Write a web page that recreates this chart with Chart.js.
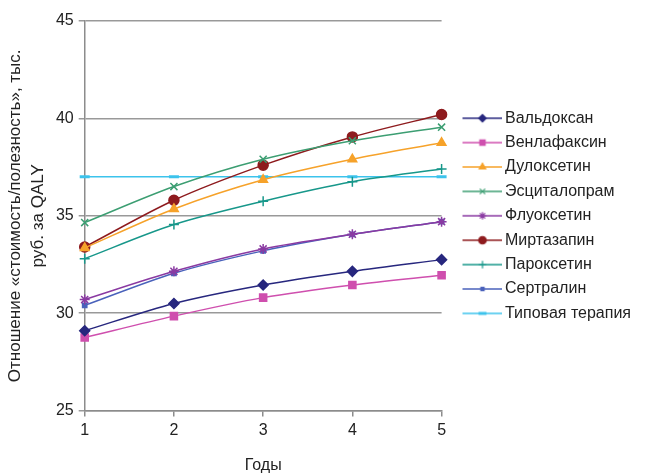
<!DOCTYPE html>
<html>
<head>
<meta charset="utf-8">
<script src="https://cdn.jsdelivr.net/npm/chart.js@4"></script>
<style>
  html, body { margin: 0; padding: 0; background: #fff; }
  #wrap { width: 645px; height: 476px; }
</style>
</head>
<body>
<div id="wrap"><canvas id="chart" width="645" height="476"></canvas></div>
<script>
// years on the x axis
var years = ['1', '2', '3', '4', '5']

// series, тыс. руб. за QALY
var valdoxan     = [29.1, 30.5, 31.45, 32.15, 32.75]
var venlafaxine  = [28.75, 29.85, 30.8, 31.45, 31.95]
var duloxetine   = [33.35, 35.35, 36.85, 37.9, 38.75]
var escitalopram = [34.65, 36.5, 37.9, 38.85, 39.55]
var fluoxetine   = [30.7, 32.15, 33.3, 34.05, 34.7]
var mirtazapine  = [33.4, 35.8, 37.6, 39.05, 40.2]
var paroxetine   = [32.8, 34.55, 35.75, 36.75, 37.4]
var sertraline   = [30.4, 32.05, 33.2, 34.05, 34.7]
var typical      = [37, 37, 37, 37, 37]

var yTicks = [25, 30, 35, 40, 45]

var FONT = "'Liberation Sans', Arial, sans-serif"
var BOX_W = 47   // legend slot before the text
var ICON_W = 58  // legend icon canvas, a bit wider than the slot

function LegendIcon(color, style, radius){
    var c = document.createElement('canvas')
    c.width = ICON_W
    c.height = 14
    var ctx = c.getContext('2d')
    ctx.strokeStyle = color
    ctx.fillStyle = color
    ctx.lineWidth = 1.5
    ctx.beginPath()
    ctx.moveTo(18, 7)
    ctx.lineTo(58, 7)
    ctx.stroke()
    ctx.lineWidth = style == 'line' ? 3 : 1.2
    var r = style == 'line' ? 4 : radius * 0.75
    Chart.helpers.drawPoint(ctx, {pointStyle: style, radius: r, borderWidth: 1.2, rotation: 0}, 38, 7)
    return c
}

function Series(label, data, color, style, radius){
    return {
        label: label,
        data: data,
        borderColor: color,
        backgroundColor: color,
        pointStyle: style,
        pointRadius: radius,
        pointBorderWidth: style == 'line' ? 3 : 1.5,
        borderWidth: 1.5,
        tension: 0.3,
        fill: false,
        icon: LegendIcon(color, style, radius)
    }
}

var datasets = [
    Series('Вальдоксан', valdoxan, '#27277e', 'rectRot', 5),
    Series('Венлафаксин', venlafaxine, '#cf4fae', 'rect', 5),
    Series('Дулоксетин', duloxetine, '#f6a22a', 'triangle', 5),
    Series('Эсциталопрам', escitalopram, '#3c9e72', 'crossRot', 5),
    Series('Флуоксетин', fluoxetine, '#8a3aa2', 'star', 5),
    Series('Миртазапин', mirtazapine, '#8e1b1e', 'circle', 5),
    Series('Пароксетин', paroxetine, '#17978a', 'cross', 5),
    Series('Сертралин', sertraline, '#4a62bb', 'rect', 3),
    Series('Типовая терапия', typical, '#3cc3ec', 'line', 5)
]

var config = {
    type: 'line',
    data: {
        labels: years,
        datasets: datasets
    },
    options: {
        responsive: false,
        animation: false,
        layout: {
            padding: {top: 21, right: 4, bottom: 1, left: 4}
        },
        plugins: {
            tooltip: {enabled: false},
            legend: {
                position: 'right',
                fullSize: false,
                maxWidth: 320,
                labels: {
                    usePointStyle: true,
                    pointStyleWidth: BOX_W,
                    boxHeight: 14,
                    padding: 8.4,
                    color: '#222',
                    font: {family: FONT, size: 16},
                    generateLabels: function(chart){
                        var items = Chart.defaults.plugins.legend.labels.generateLabels(chart)
                        items.forEach(function(it){
                            it.pointStyle = chart.data.datasets[it.datasetIndex].icon
                        })
                        return items
                    }
                }
            }
        },
        scales: {
            x: {
                offset: false,
                grid: {display: true, drawOnChartArea: false, color: '#8c8c8c', tickLength: 6, lineWidth: 1.5},
                border: {color: '#8c8c8c', width: 1.5},
                ticks: {color: '#222', font: {family: FONT, size: 16}, padding: 4},
                title: {display: true, text: 'Годы', color: '#222', font: {family: FONT, size: 16}, padding: {top: 12, bottom: 0}}
            },
            y: {
                min: 25,
                max: 45,
                afterBuildTicks: function(axis){
                    axis.ticks = yTicks.map(function(v){ return {value: v} })
                },
                grid: {color: '#999', lineWidth: 1.5, tickLength: 6},
                border: {color: '#8c8c8c', width: 1.5},
                ticks: {color: '#222', font: {family: FONT, size: 16}, padding: 5},
                title: {
                    display: true,
                    text: ['Отношение «стоимость/полезность», тыс.', 'руб. за QALY'],
                    color: '#222',
                    font: {family: FONT, size: 17, lineHeight: 1.35},
                    padding: {top: 0, bottom: 1}
                }
            }
        }
    }
}

var chart = new Chart(document.getElementById('chart').getContext('2d'), config)
</script>
</body>
</html>
